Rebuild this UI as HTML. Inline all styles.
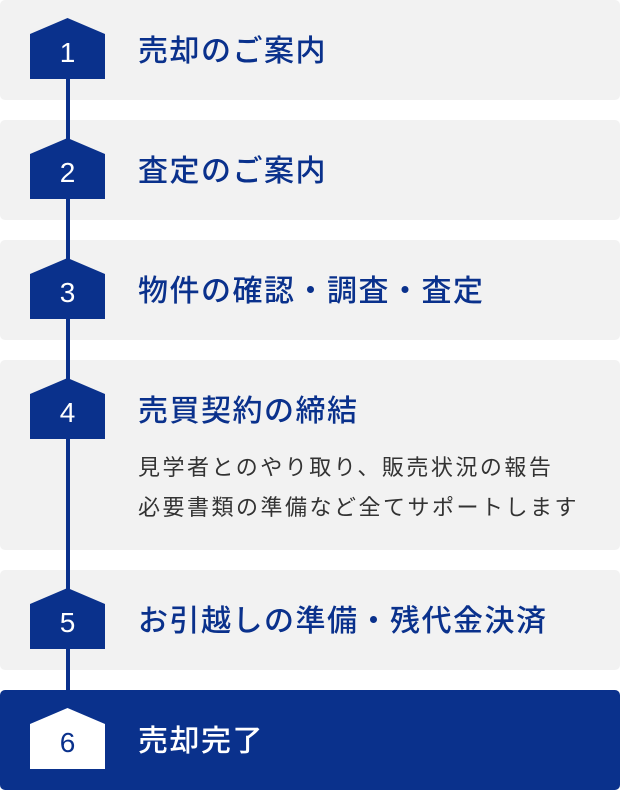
<!DOCTYPE html>
<html><head><meta charset="utf-8"><style>
body{margin:0;width:620px;height:790px;background:#fff;font-family:"Liberation Sans","Noto Sans CJK JP",sans-serif;position:relative;overflow:hidden}
.card{position:absolute;left:0;width:620px;background:#f2f2f2;border-radius:5px}
.line{position:absolute;left:66px;width:4px;top:60px;height:640px;background:#0a318c}
.b{position:absolute;left:30px;width:75px;height:61px}
.n{position:absolute;left:30px;width:75px;text-align:center;font-size:28px;color:#fff;line-height:30px}
.t{position:absolute;left:138px;font-size:30px;color:#0a318c;line-height:34px;letter-spacing:1.5px;white-space:nowrap;font-weight:500}
.s{position:absolute;left:138px;font-size:22px;color:#333;line-height:40px;letter-spacing:2.5px;white-space:nowrap}
</style></head><body>
<div class="card" style="top:0;height:100px"></div>
<div class="card" style="top:120px;height:100px"></div>
<div class="card" style="top:240px;height:100px"></div>
<div class="card" style="top:360px;height:190px"></div>
<div class="card" style="top:570px;height:100px"></div>
<div class="card" style="top:690px;height:100px;background:#0a318c"></div>
<div class="line"></div>
<svg class="b" style="top:18px" viewBox="0 0 75 61"><polygon points="0,16 37.5,0 75,16 75,61 0,61" fill="#0a318c"/></svg>
<svg class="b" style="top:138px" viewBox="0 0 75 61"><polygon points="0,16 37.5,0 75,16 75,61 0,61" fill="#0a318c"/></svg>
<svg class="b" style="top:258px" viewBox="0 0 75 61"><polygon points="0,16 37.5,0 75,16 75,61 0,61" fill="#0a318c"/></svg>
<svg class="b" style="top:378px" viewBox="0 0 75 61"><polygon points="0,16 37.5,0 75,16 75,61 0,61" fill="#0a318c"/></svg>
<svg class="b" style="top:588px" viewBox="0 0 75 61"><polygon points="0,16 37.5,0 75,16 75,61 0,61" fill="#0a318c"/></svg>
<svg class="b" style="top:708px" viewBox="0 0 75 61"><polygon points="0,16 37.5,0 75,16 75,61 0,61" fill="#fff"/></svg>
<div class="n" style="top:38px">1</div>
<div class="n" style="top:158px">2</div>
<div class="n" style="top:278px">3</div>
<div class="n" style="top:398px">4</div>
<div class="n" style="top:608px">5</div>
<div class="n" style="top:728px;color:#0a318c">6</div>
<div class="t" style="top:35px">売却のご案内</div>
<div class="t" style="top:155px">査定のご案内</div>
<div class="t" style="top:275px">物件の確認・調査・査定</div>
<div class="t" style="top:395px">売買契約の締結</div>
<div class="s" style="top:448px">見学者とのやり取り、販売状況の報告<br>必要書類の準備など全てサポートします</div>
<div class="t" style="top:605px">お引越しの準備・残代金決済</div>
<div class="t" style="top:725px;color:#fff">売却完了</div>
</body></html>
